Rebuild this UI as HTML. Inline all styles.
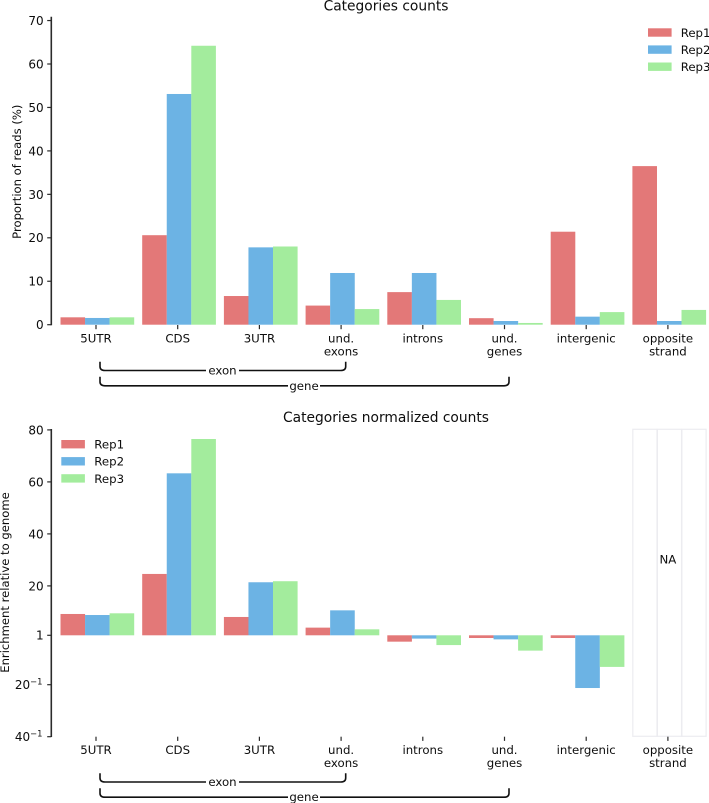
<!DOCTYPE html>
<html>
<head>
<meta charset="utf-8">
<title>Categories counts</title>
<style>
html,body{margin:0;padding:0;background:#fff;}
svg{display:block;filter:blur(0.35px);}
text{font-family:"DejaVu Sans","Liberation Sans",sans-serif;fill:#0d0d0d;}
</style>
</head>
<body>
<svg id="chart" width="709" height="803" viewBox="0 0 709 803" xmlns="http://www.w3.org/2000/svg"></svg>
<script>
const categories = [['5UTR'],['CDS'],['3UTR'],['und.','exons'],['introns'],['und.','genes'],['intergenic'],['opposite','strand']];
const seriesNames = ['Rep1','Rep2','Rep3'];
const seriesColors = ['#e37878','#6cb3e4','#a3ec9d'];

const countsRep1 = [1.7,20.6,6.6,4.4,7.5,1.5,21.4,36.5];
const countsRep2 = [1.55,53.1,17.8,11.9,11.9,0.85,1.85,0.85];
const countsRep3 = [1.7,64.2,18.0,3.6,5.7,0.4,2.9,3.4];
const countTicks = [0,10,20,30,40,50,60,70];

const enrichRep1 = [9.2,24.6,8.05,3.95,0.29,0.49,0.49,null];
const enrichRep2 = [8.8,63.3,21.4,10.6,0.44,0.39,0.047,null];
const enrichRep3 = [9.46,76.5,21.8,3.3,0.21,0.145,0.076,null];
const enrichTicks = [80,60,40,20,1,0.05,0.025];
const enrichTickBases = ['80','60','40','20','1','20','40'];
const enrichTickExps = ['','','','','','\u22121','\u22121'];

const SVGNS = 'http://www.w3.org/2000/svg';
const svg = document.getElementById('chart');
const FS = 11.75;

function mk(tag, parent, props, txt) {
  const el = document.createElementNS(SVGNS, tag);
  for (const k in props) el.setAttribute(k, props[k]);
  if (txt !== undefined) el.textContent = txt;
  parent.appendChild(el);
  return el;
}

function groupLeft(c) { return 60.5 + 81.7 * c; }
function barLeft(c, r) { return groupLeft(c) + r * 24.55; }
function tickX(c) { return 96 + 81.7 * c; }
function yCounts(v) { return 324.7 - v * 4.345; }
function enrichTransform(v) { return v >= 1 ? v - 1 : 1 - 1 / v; }
function yEnrich(v) { return 635.3 - enrichTransform(v) * 2.6; }

function drawTitle(text, y, name) {
  const t = mk('text', svg, {x: 386, y: y, 'text-anchor': 'middle', 'font-size': 13.8}, text);
  
  
}

function drawYLabel(text, x, y, name) {
  const t = mk('text', svg, {x: x, y: y, 'text-anchor': 'middle', 'font-size': 11.6, transform: 'rotate(-90 ' + x + ' ' + y + ')'}, text);
  
  
}

function drawSpine(y1, y2, name) {
  const l = mk('line', svg, {x1: 51.3, x2: 51.3, y1: y1, y2: y2, stroke: '#2b2b2b', 'stroke-width': 1.6});
  
  
}

function drawYTick(y, base, exp, name) {
  const l = mk('line', svg, {x1: 47.2, x2: 51.3, y1: y, y2: y, stroke: '#2b2b2b', 'stroke-width': 1.2});
  
  
  const t = mk('text', svg, {x: exp ? 42.5 : 43.6, y: y + 4.4, 'text-anchor': 'end', 'font-size': FS + 0.25}, base);
  
  
  if (exp) {
    const s = mk('tspan', t, {dy: -4.5, 'font-size': 8.4}, exp);
    
    
  }
}

function drawXAxis(tickTop, labelY, prefix) {
  categories.forEach(function (lines, c) {
    const l = mk('line', svg, {x1: tickX(c), x2: tickX(c), y1: tickTop, y2: tickTop + 4.2, stroke: '#2b2b2b', 'stroke-width': 1.2});
    
    
    lines.forEach(function (line, i) {
      const t = mk('text', svg, {x: tickX(c), y: labelY + i * 13.05, 'text-anchor': 'middle', 'font-size': FS}, line);
      
      
    });
  });
}

function drawBars(seriesList, yFn, baseY, prefix) {
  seriesList.forEach(function (values, r) {
    values.forEach(function (v, c) {
      if (v === null) return;
      const y = yFn(v);
      const b = mk('rect', svg, {x: barLeft(c, r), y: Math.min(y, baseY), width: 24.6, height: Math.abs(y - baseY), fill: seriesColors[r]});
      
      
    });
  });
}

function drawLegend(swX, textX, top, prefix) {
  seriesNames.forEach(function (name, r) {
    const y = top + r * 17.1;
    const s = mk('rect', svg, {x: swX, y: y, width: 23.6, height: 8.4, fill: seriesColors[r]});
    
    
    const t = mk('text', svg, {x: textX, y: y + 8.6, 'font-size': FS}, name);
    
    
  });
}

function drawBrace(x1, x2, yTop, yLine, label, cx, gapL, gapR, name) {
  const d = 'M' + x1 + ' ' + yTop + 'V' + (yLine - 4) + 'Q' + x1 + ' ' + yLine + ' ' + (x1 + 5) + ' ' + yLine + 'H' + gapL +
            'M' + gapR + ' ' + yLine + 'H' + (x2 - 5) + 'Q' + x2 + ' ' + yLine + ' ' + x2 + ' ' + (yLine - 4) + 'V' + yTop;
  const p = mk('path', svg, {d: d, fill: 'none', stroke: '#111', 'stroke-width': 1.6});
  
  
  const t = mk('text', svg, {x: cx, y: yLine + 4, 'text-anchor': 'middle', 'font-size': FS}, label);
  
  
}

/* top panel */
drawTitle('Categories counts', 10.5, 'counts-title');
drawYLabel('Proportion of reads (%)', 21, 171.7, 'counts-y-axis-title');
drawBars([countsRep1, countsRep2, countsRep3], yCounts, yCounts(0), 'counts');
drawSpine(16.7, 325.2, 'counts-y-axis');
countTicks.forEach(function (v) {
  drawYTick(yCounts(v), String(v), '', 'counts-y-tick');
});
drawXAxis(325, 342.3, 'counts');
drawLegend(648, 680.7, 28.3, 'counts');
drawBrace(100, 345.7, 361.7, 370.5, 'exon', 222.5, 206, 239, 'counts-exon');
drawBrace(100, 509, 376.7, 385.8, 'gene', 304, 288, 320, 'counts-gene');

/* bottom panel */
drawTitle('Categories normalized counts', 422, 'enrichment-title');
drawYLabel('Enrichment relative to genome', 9, 582.5, 'enrichment-y-axis-title');
drawBars([enrichRep1, enrichRep2, enrichRep3], yEnrich, yEnrich(1), 'enrichment');

[enrichRep1, enrichRep2, enrichRep3].forEach(function (values, r) {
  values.forEach(function (v, c) {
    if (v !== null) return;
    const b = mk('rect', svg, {x: barLeft(c, r) + 0.4, y: 429.3, width: 24.2, height: 307, fill: 'none', stroke: '#ececf0', 'stroke-width': 1.2});
    
    
  });
  const naCount = values.filter(function (v) { return v === null; }).length;
  if (r === 1 && naCount) {
    const t = mk('text', svg, {x: tickX(7), y: 563.7, 'text-anchor': 'middle', 'font-size': FS}, 'NA');
    
    
  }
});

drawSpine(429, 737, 'enrichment-y-axis');
enrichTicks.forEach(function (v, i) {
  drawYTick(yEnrich(v), enrichTickBases[i], enrichTickExps[i], 'enrichment-y-tick');
});
drawXAxis(736.7, 753.8, 'enrichment');
drawLegend(61.3, 94.3, 440, 'enrichment');
drawBrace(100, 345.7, 773.3, 782, 'exon', 222.5, 206, 239, 'enrichment-exon');
drawBrace(100, 509, 788.3, 797.2, 'gene', 304, 288, 320, 'enrichment-gene');
</script>
</body>
</html>
